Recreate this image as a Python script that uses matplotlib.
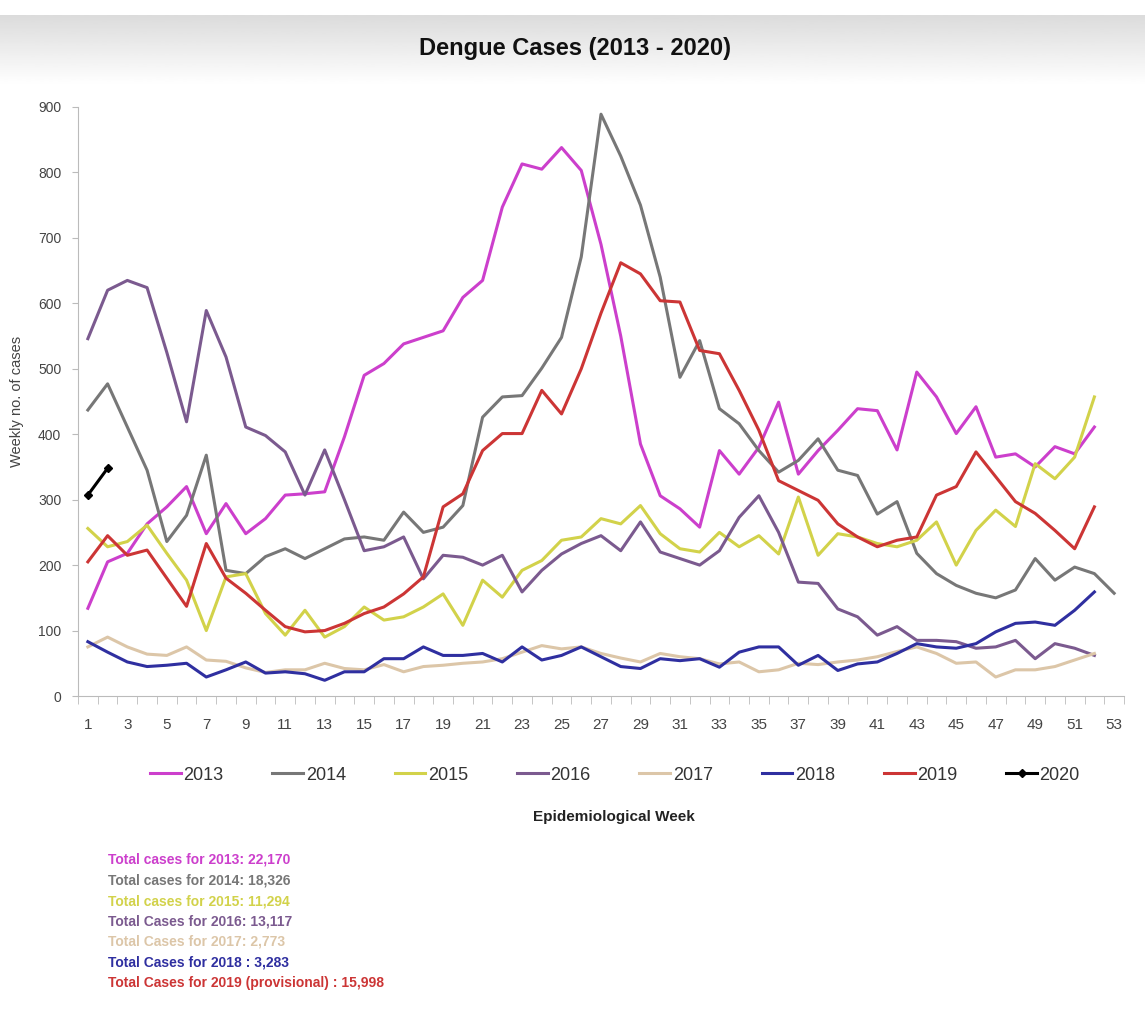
import numpy as np
import matplotlib
matplotlib.use('Agg')
import matplotlib.pyplot as plt

# 周数据
weeks52 = list(range(1, 53))
weeks53 = list(range(1, 54))

cases_2013 = [134, 205, 218, 263, 289, 320, 248, 294, 248, 271, 307, 309, 312,
              396, 490, 508, 538, 548, 558, 609, 635, 747, 813, 805, 838, 803,
              690, 550, 385, 306, 286, 258, 375, 339, 380, 449, 339, 375, 406,
              439, 436, 376, 495, 457, 401, 442, 365, 370, 350, 381, 370, 411]
cases_2014 = [437, 477, 411, 345, 236, 276, 368, 192, 187, 213, 225, 210, 225,
              240, 243, 238, 281, 250, 258, 291, 426, 457, 459, 501, 548, 671,
              889, 825, 750, 640, 487, 543, 439, 416, 375, 342, 360, 393, 345,
              337, 278, 297, 218, 187, 169, 157, 150, 162, 210, 177, 197, 187, 157]
cases_2015 = [256, 228, 236, 261, 218, 177, 100, 182, 187, 126, 93, 131, 90,
              106, 136, 116, 121, 136, 156, 108, 177, 151, 192, 207, 238, 243,
              271, 263, 291, 248, 225, 220, 250, 228, 245, 217, 304, 215, 248,
              243, 233, 228, 238, 266, 200, 253, 284, 259, 355, 332, 365, 457]
cases_2016 = [546, 620, 635, 624, 525, 419, 589, 518, 411, 398, 373, 307, 376,
              300, 222, 228, 243, 179, 215, 212, 200, 215, 159, 192, 217, 233,
              245, 222, 266, 220, 210, 200, 222, 273, 306, 250, 174, 172, 133,
              121, 93, 106, 85, 85, 83, 73, 75, 85, 57, 80, 73, 62]
cases_2017 = [75, 90, 75, 64, 62, 75, 55, 53, 43, 36, 40, 40, 50,
              42, 40, 48, 37, 45, 47, 50, 52, 57, 67, 77, 72, 75,
              65, 58, 52, 65, 60, 57, 49, 52, 37, 40, 50, 48, 52,
              55, 60, 68, 75, 65, 50, 52, 29, 40, 40, 45, 55, 65]
cases_2018 = [83, 67, 52, 45, 47, 50, 29, 40, 52, 35, 37, 34, 24,
              37, 37, 57, 57, 75, 62, 62, 65, 52, 75, 55, 62, 75,
              60, 45, 42, 57, 54, 57, 44, 67, 75, 75, 47, 62, 39,
              49, 52, 65, 80, 75, 73, 80, 98, 111, 113, 108, 131, 159]
cases_2019 = [205, 245, 215, 223, 180, 137, 233, 180, 157, 131, 106, 98, 100,
              111, 126, 136, 156, 182, 289, 309, 375, 401, 401, 467, 431, 500,
              585, 662, 645, 604, 602, 528, 523, 467, 406, 329, 314, 299, 263,
              243, 228, 238, 243, 307, 320, 373, 335, 297, 279, 253, 225, 289]
cases_2020 = [307, 348]

years = ['2013', '2014', '2015', '2016', '2017', '2018', '2019']
totals = ['22,170', '18,326', '11,294', '13,117', '2,773', '3,283', '15,998']
total_labels = ['Total cases for 2013: ', 'Total cases for 2014: ', 'Total cases for 2015: ',
                'Total Cases for 2016: ', 'Total Cases for 2017: ', 'Total Cases for 2018 : ',
                'Total Cases for 2019 (provisional) : ']
colors = ['#cc3fcc', '#777777', '#d2d24a', '#7b5a8f', '#dcc6a8', '#2f2fa0', '#cc3535']

FONT = ['Liberation Sans', 'DejaVu Sans']

fig = plt.figure(figsize=(11.45, 10.35), dpi=100)

# 顶部灰色渐变条
band = fig.add_axes([0, 1 - 85 / 1035, 1, 70 / 1035])
grad = np.linspace(0.86, 1.0, 100).reshape(-1, 1)
band.imshow(grad, aspect='auto', cmap='gray', vmin=0, vmax=1, extent=[0, 1, 0, 1])
band.axis('off')

fig.text(0.502, 1 - 48 / 1035, 'Dengue Cases (2013 - 2020)', ha='center', va='center',
         fontsize=17, fontweight='bold', family=FONT, color='#111111')

ax = fig.add_axes([78 / 1145, 339 / 1035, (1124 - 78) / 1145, (696 - 107) / 1035])

series = [cases_2013, cases_2014, cases_2015, cases_2016, cases_2017, cases_2018, cases_2019]
for yr, vals, c in zip(years, series, colors):
    xs = weeks53 if len(vals) == 53 else weeks52
    ax.plot(xs, vals, color=c, lw=2.2, label=yr)
ax.plot([1, 2], cases_2020, color='black', lw=2.2, marker='D', markersize=4, label='2020')

ax.set_xlim(0.5, 53.5)
ax.set_ylim(0, 900)
ax.set_yticks(range(0, 901, 100))
ax.set_xticks(range(1, 54, 2))
ax.set_xticks(np.arange(0.5, 54, 1), minor=True)
ax.tick_params(axis='x', which='major', length=0, pad=16, labelsize=11, labelcolor='#444444')
ax.tick_params(axis='x', which='minor', length=6, color='#bbbbbb')
ax.tick_params(axis='y', length=4, color='#bbbbbb', labelsize=10, labelcolor='#444444', pad=8)
for lab in ax.get_xticklabels() + ax.get_yticklabels():
    lab.set_family(FONT)
for s in ['top', 'right']:
    ax.spines[s].set_visible(False)
for s in ['left', 'bottom']:
    ax.spines[s].set_color('#bbbbbb')

ax.set_ylabel('Weekly no. of cases', fontsize=10.5, family=FONT, color='#444444', labelpad=10)

leg = fig.legend(loc='center', bbox_to_anchor=(615 / 1145, 1 - 775 / 1035), ncol=8,
                 frameon=False, handlelength=1.7, handletextpad=0.15, columnspacing=2.7,
                 prop={'family': FONT, 'size': 13})
for t in leg.get_texts():
    t.set_color('#333333')

fig.text(614 / 1145, 1 - 817 / 1035, 'Epidemiological Week', ha='center', va='center',
         fontsize=11, fontweight='bold', family=FONT, color='#222222')

for i, (lbl, tot, c) in enumerate(zip(total_labels, totals, colors)):
    fig.text(108 / 1145, 1 - (860 + 20.5 * i) / 1035, lbl + tot, ha='left', va='center',
             fontsize=10, fontweight='bold', family=FONT, color=c)

plt.savefig('out.png', dpi=100)
plt.close()
